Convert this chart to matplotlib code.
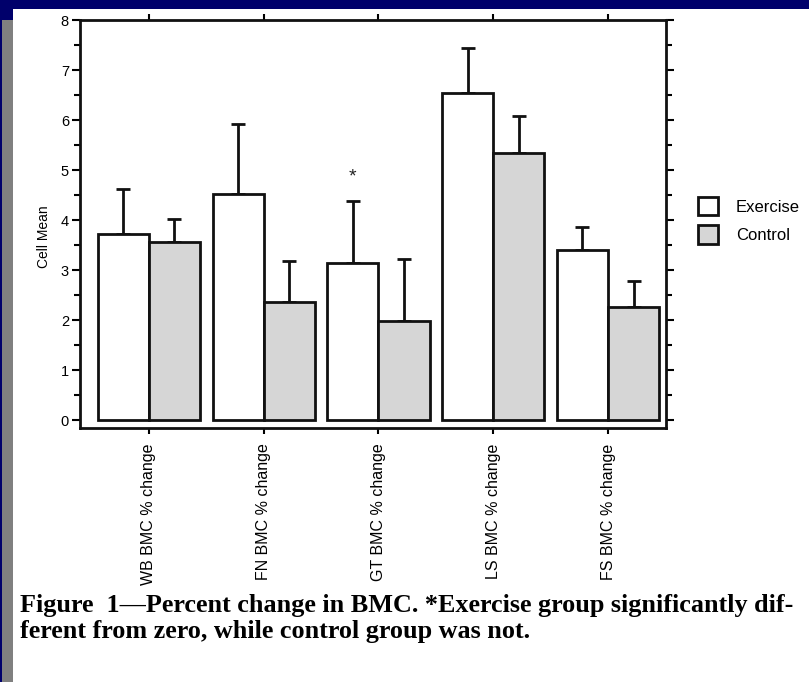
import numpy as np
import matplotlib
matplotlib.use('Agg')
import matplotlib.pyplot as plt
from matplotlib.patches import Rectangle

categories = ['WB BMC % change', 'FN BMC % change', 'GT BMC % change',
              'LS BMC % change', 'FS BMC % change']
exercise_mean = [3.72, 4.52, 3.14, 6.55, 3.40]
exercise_top = [4.62, 5.93, 4.38, 7.45, 3.87]
control_mean = [3.57, 2.37, 1.98, 5.35, 2.27]
control_top = [4.03, 3.19, 3.22, 6.08, 2.78]
series_names = ['Exercise', 'Control']
caption = ('Figure  1\u2014Percent change in BMC. *Exercise group significantly dif-\n'
           'ferent from zero, while control group was not.')

plt.rcParams['font.family'] = ['Liberation Sans', 'DejaVu Sans']

fig = plt.figure(figsize=(8.09, 6.82), dpi=100)
fig.patch.set_facecolor('#00006b')
W, H = 809, 682
# slide frame: grey strip on the left and white page
fig.patches.append(Rectangle((2 / W, 0), 11 / W, (H - 20) / H, transform=fig.transFigure,
                             facecolor='#808080', edgecolor='none', zorder=-10))
fig.patches.append(Rectangle((13 / W, 0), (W - 13) / W, (H - 9) / H, transform=fig.transFigure,
                             facecolor='white', edgecolor='none', zorder=-10))

ax = fig.add_axes([80 / W, 1 - 428 / H, 586 / W, 408 / H])
ax.set_facecolor('none')

x = np.arange(len(categories))
bw = 0.445
ex = np.array(exercise_mean)
ct = np.array(control_mean)
ex_err = np.array(exercise_top) - ex
ct_err = np.array(control_top) - ct

ax.bar(x - bw / 2, ex, bw, color='white', edgecolor='#111111', linewidth=2, label=series_names[0], zorder=3)
ax.bar(x + bw / 2, ct, bw, color='#d6d6d6', edgecolor='#111111', linewidth=2, label=series_names[1], zorder=3)
ax.errorbar(x - bw / 2, ex, yerr=[np.zeros_like(ex), ex_err], fmt='none', ecolor='#111111',
            elinewidth=2, capsize=5, capthick=2, zorder=2)
ax.errorbar(x + bw / 2, ct, yerr=[np.zeros_like(ct), ct_err], fmt='none', ecolor='#111111',
            elinewidth=2, capsize=5, capthick=2, zorder=2)

ax.text(2 - bw / 2, 4.86, '*', ha='center', va='center', fontsize=14, color='#222222')

ax.set_xlim(-0.6, 4.505)
ax.set_ylim(-0.15, 8)
ax.set_yticks(range(0, 9))
ax.set_yticks(np.arange(0.5, 8, 1), minor=True)
ax.set_xticks(x)
ax.set_xticklabels(categories, rotation=90, va='top', ha='center', fontsize=11.5)
ax.tick_params(axis='y', which='major', direction='out', length=6, width=1.5, labelsize=10.5,
               right=True, pad=2)
ax.tick_params(axis='y', which='minor', direction='out', length=4, width=1.5, right=True)
ax.tick_params(axis='x', direction='out', length=4, width=1.5, top=True, pad=7)
for s in ax.spines.values():
    s.set_linewidth(2)
    s.set_color('#111111')
ax.set_ylabel('Cell Mean', fontsize=10)
ax.yaxis.set_label_coords(-29 / 586, 0.47)

fig.legend(loc='upper left', bbox_to_anchor=(691 / W, 1 - 190 / H), frameon=False,
           fontsize=12, handlelength=1.2, handleheight=1.35, handletextpad=1.1,
           labelspacing=0.6, borderaxespad=0)

fig.text(20 / W, 1 - 594 / H, caption, ha='left', va='top', fontsize=18.8,
         family=['Liberation Serif', 'DejaVu Serif'], fontweight='bold', linespacing=1.15)

fig.savefig('out.png', dpi=100, facecolor=fig.get_facecolor())
